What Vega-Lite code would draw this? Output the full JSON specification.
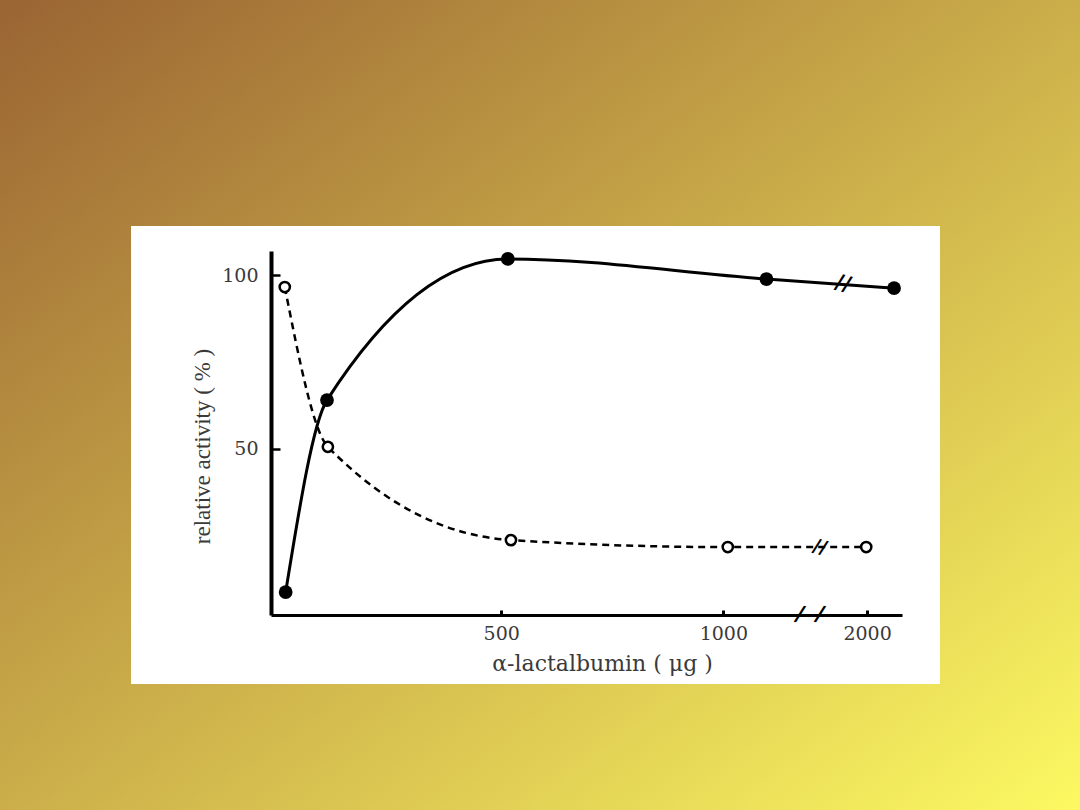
{
  "$schema": "https://vega.github.io/schema/vega-lite/v6.json",
  "width": 631,
  "height": 364,
  "autosize": {"type": "none"},
  "padding": {"left": 271, "top": 251, "right": 178, "bottom": 195},
  "background": "#CBAE4A",
  "config": {"view": {"stroke": null}},
  "datasets": {
    "curves": [
      {"series": "filled", "dose": 15, "activity": 8.6},
      {"series": "filled", "dose": 108, "activity": 64.0},
      {"series": "filled", "dose": 515, "activity": 104.7},
      {"series": "filled", "dose": 1097, "activity": 98.9},
      {"series": "filled", "dose": 2061, "activity": 96.3},
      {"series": "open", "dose": 13, "activity": 96.6},
      {"series": "open", "dose": 110, "activity": 50.5},
      {"series": "open", "dose": 522, "activity": 23.6},
      {"series": "open", "dose": 1010, "activity": 21.6},
      {"series": "open", "dose": 1998, "activity": 21.6}
    ]
  },
  "data": {"name": "curves"},
  "layer": [
    {
      "data": {"values": [{}]},
      "mark": {
        "type": "rect",
        "fill": {
          "gradient": "linear",
          "x1": 0, "y1": 0, "x2": 1, "y2": 1,
          "stops": [
            {"offset": 0, "color": "#9A6433"},
            {"offset": 0.5, "color": "#CBAE4A"},
            {"offset": 1, "color": "#FCF962"}
          ]
        }
      },
      "encoding": {
        "x": {"datum": -628, "type": "quantitative"},
        "x2": {"datum": 2482},
        "y": {"datum": 179.4, "type": "quantitative"},
        "y2": {"datum": -54.25}
      }
    },
    {
      "data": {"values": [{}]},
      "mark": {"type": "rect", "fill": "#FFFFFF"},
      "encoding": {
        "x": {"datum": -333, "type": "quantitative"},
        "x2": {"datum": 2165},
        "y": {"datum": 114.2, "type": "quantitative"},
        "y2": {"datum": -17.9}
      }
    },
    {
      "transform": [{"filter": "datum.series === 'filled'"}],
      "mark": {"type": "line", "color": "#000000", "strokeWidth": 3, "interpolate": "monotone"},
      "encoding": {
        "x": {
          "field": "dose",
          "type": "quantitative",
          "title": "α-lactalbumin ( μg )",
          "scale": {"type": "linear", "domain": [-18, 1150, 1950, 2079], "range": [0, 519, 574, 631], "nice": false, "zero": false},
          "axis": {
            "zindex": 2,
            "values": [500, 1000, 2000],
            "format": "d",
            "domainColor": "#000000",
            "domainWidth": 3,
            "tickColor": "#000000",
            "tickWidth": 3,
            "tickSize": -5,
            "labelPadding": 14,
            "labelFont": "DejaVu Serif",
            "labelFontSize": 19,
            "labelColor": "#3a3a3a",
            "labelBaseline": "top",
            "titleFont": "DejaVu Serif",
            "titleFontSize": 22,
            "titleFontWeight": "normal",
            "titleColor": "#3a3a3a",
            "titleX": 331,
            "titleY": 48,
            "titleBaseline": "middle",
            "grid": false
          }
        },
        "y": {
          "field": "activity",
          "type": "quantitative",
          "title": "relative activity ( % )",
          "scale": {"domain": [2, 107], "nice": false, "zero": false},
          "axis": {
            "zindex": 2,
            "values": [50, 100],
            "domainColor": "#000000",
            "domainWidth": 4,
            "tickColor": "#000000",
            "tickWidth": 2.5,
            "tickSize": -9,
            "labelPadding": 22,
            "labelFont": "DejaVu Serif",
            "labelFontSize": 19,
            "labelColor": "#3a3a3a",
            "titleFont": "Liberation Serif",
            "titleFontSize": 23,
            "titleFontWeight": "normal",
            "titleColor": "#3a3a3a",
            "titleX": -69,
            "titleY": 195,
            "titleBaseline": "middle",
            "grid": false
          }
        }
      }
    },
    {
      "transform": [{"filter": "datum.series === 'open'"}],
      "mark": {"type": "line", "color": "#000000", "strokeWidth": 2.5, "strokeDash": [7, 5], "interpolate": "monotone"},
      "encoding": {
        "x": {"field": "dose", "type": "quantitative"},
        "y": {"field": "activity", "type": "quantitative"}
      }
    },
    {
      "transform": [{"filter": "datum.series === 'filled'"}],
      "mark": {"type": "point", "filled": true, "color": "#000000", "size": 190, "opacity": 1},
      "encoding": {
        "x": {"field": "dose", "type": "quantitative"},
        "y": {"field": "activity", "type": "quantitative"}
      }
    },
    {
      "transform": [{"filter": "datum.series === 'open'"}],
      "mark": {"type": "point", "fill": "#FFFFFF", "stroke": "#000000", "strokeWidth": 2.5, "size": 105, "opacity": 1, "fillOpacity": 1},
      "encoding": {
        "x": {"field": "dose", "type": "quantitative"},
        "y": {"field": "activity", "type": "quantitative"}
      }
    },
    {
      "data": {"values": [{}]},
      "mark": {"type": "text", "text": "/", "font": "DejaVu Sans", "fontWeight": "bold", "fontSize": 22, "angle": 15, "color": "#000000"},
      "encoding": {
        "x": {"datum": 1295, "type": "quantitative"},
        "y": {"datum": 2.3, "type": "quantitative"}
      }
    },
    {
      "data": {"values": [{}]},
      "mark": {"type": "text", "text": "/", "font": "DejaVu Sans", "fontWeight": "bold", "fontSize": 22, "angle": 15, "color": "#000000"},
      "encoding": {
        "x": {"datum": 1586, "type": "quantitative"},
        "y": {"datum": 2.3, "type": "quantitative"}
      }
    },
    {
      "data": {"values": [{}]},
      "mark": {"type": "text", "text": "//", "font": "DejaVu Sans", "fontWeight": "bold", "fontSize": 21, "angle": 15, "color": "#000000"},
      "encoding": {
        "x": {"datum": 1921, "type": "quantitative"},
        "y": {"datum": 97.5, "type": "quantitative"}
      }
    },
    {
      "data": {"values": [{}]},
      "mark": {"type": "text", "text": "//", "font": "DejaVu Sans", "fontWeight": "bold", "fontSize": 19, "angle": 15, "color": "#000000"},
      "encoding": {
        "x": {"datum": 1586, "type": "quantitative"},
        "y": {"datum": 21.6, "type": "quantitative"}
      }
    }
  ]
}
